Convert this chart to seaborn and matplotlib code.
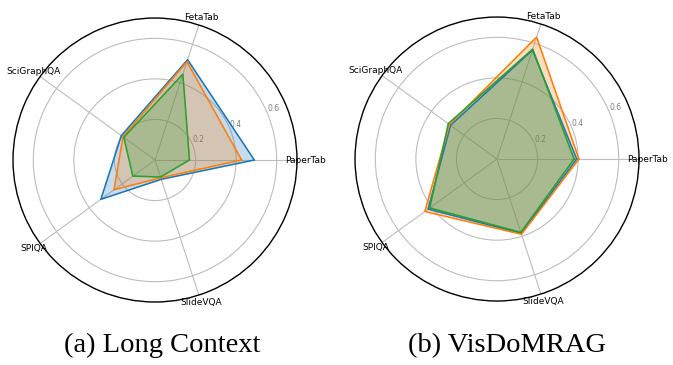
import numpy as np
import matplotlib
matplotlib.use("Agg")
import matplotlib.pyplot as plt
import seaborn as sns

categories = ["PaperTab", "FetaTab", "SciGraphQA", "SPIQA", "SlideVQA"]

# (a) Long Context
long_blue = [0.49, 0.52, 0.205, 0.33, 0.10]
long_orange = [0.427, 0.51, 0.195, 0.25, 0.092]
long_green = [0.17, 0.445, 0.19, 0.135, 0.088]

# (b) VisDoMRAG
vis_blue = [0.393, 0.565, 0.283, 0.42, 0.385]
vis_orange = [0.404, 0.632, 0.29, 0.44, 0.39]
vis_green = [0.38, 0.57, 0.297, 0.41, 0.38]

captions = ["(a) Long Context", "(b) VisDoMRAG"]

sns.set_style("white")
palette = sns.color_palette("tab10")

fig = plt.figure(figsize=(6.73, 3.65), dpi=100)

angles = np.linspace(0, 2 * np.pi, len(categories), endpoint=False)
angles_closed = np.concatenate([angles, angles[:1]])


def radar(ax, series):
    for vals, col in zip(series, palette[:3]):
        v = np.concatenate([vals, vals[:1]])
        ax.plot(angles_closed, v, color=col, linewidth=1.1)
        ax.fill(angles_closed, v, color=col, alpha=0.25)
    ax.set_ylim(0, 0.7)
    ax.set_yticks([0.2, 0.4, 0.6])
    ax.set_yticklabels(["0.2", "0.4", "0.6"], color="grey", fontsize=5.5)
    ax.set_rlabel_position(22.5)
    ax.set_xticks(angles)
    ax.set_xticklabels(categories, fontsize=6.5, color="black")
    ax.tick_params(axis="x", pad=-4.5)
    ax.grid(True, color="#bdbdbd", linewidth=0.8)
    ax.spines["polar"].set_color("black")
    ax.spines["polar"].set_linewidth(1.0)


ax1 = fig.add_axes([0.0193, 0.1726, 0.422, 0.778], projection="polar")
radar(ax1, [long_blue, long_orange, long_green])
ax2 = fig.add_axes([0.5275, 0.1753, 0.422, 0.778], projection="polar")
radar(ax2, [vis_blue, vis_orange, vis_green])

fig.text(161.7 / 673, 0.036, captions[0], ha="center", va="baseline",
         fontsize=20.5, family="Liberation Serif", color="black")
fig.text(507 / 673, 0.036, captions[1], ha="center", va="baseline",
         fontsize=20.5, family="Liberation Serif", color="black")

plt.savefig("out.png", dpi=100)
plt.close()
